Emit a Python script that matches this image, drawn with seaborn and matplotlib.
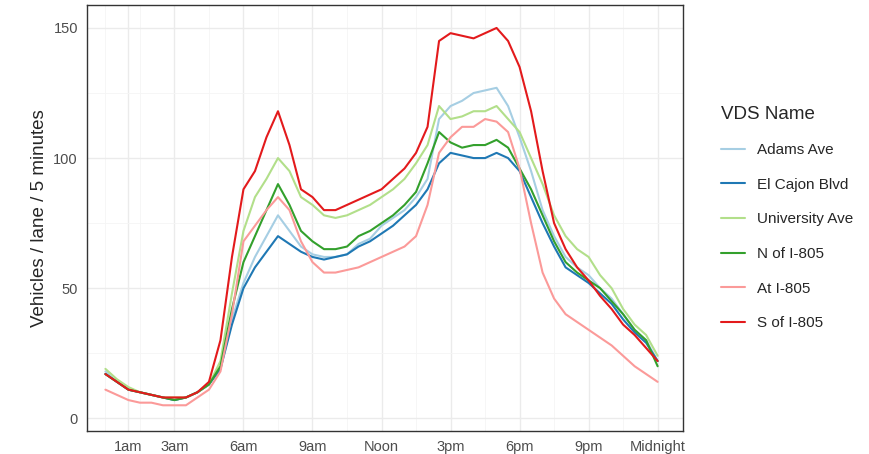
import matplotlib.pyplot as plt
import numpy as np
import pandas as pd
import seaborn as sns

sns.set_theme(style="whitegrid")
plt.rcParams["font.family"] = ["Liberation Sans", "DejaVu Sans"]

hours = [i / 2 for i in range(49)]
adams = [18, 14, 11, 10, 9, 8, 7, 8, 10, 13, 19, 38, 52, 62, 70, 78, 72, 66, 63, 62, 62, 63, 67, 69, 74,
         77, 80, 85, 92, 115, 120, 122, 125, 126, 127, 120, 108, 95, 80, 70, 62, 58, 55, 50, 46, 40, 34, 30, 22]
el_cajon = [17, 14, 11, 10, 9, 8, 7, 8, 10, 13, 19, 36, 50, 58, 64, 70, 67, 64, 62, 61, 62, 63, 66, 68, 71,
            74, 78, 82, 88, 98, 102, 101, 100, 100, 102, 100, 95, 85, 75, 66, 58, 55, 52, 48, 44, 38, 33, 29, 22]
university = [19, 15, 12, 10, 9, 8, 8, 8, 10, 13, 22, 48, 72, 85, 92, 100, 95, 85, 82, 78, 77, 78, 80, 82, 85,
              88, 92, 98, 105, 120, 115, 116, 118, 118, 120, 115, 110, 100, 90, 78, 70, 65, 62, 55, 50, 42, 36, 32, 24]
n_805 = [17, 14, 11, 10, 9, 8, 7, 8, 10, 13, 20, 42, 60, 70, 80, 90, 82, 72, 68, 65, 65, 66, 70, 72, 75,
         78, 82, 87, 98, 110, 106, 104, 105, 105, 107, 104, 96, 88, 78, 68, 60, 56, 53, 50, 45, 40, 34, 30, 20]
at_805 = [11, 9, 7, 6, 6, 5, 5, 5, 8, 11, 18, 40, 68, 74, 80, 85, 80, 68, 60, 56, 56, 57, 58, 60, 62,
          64, 66, 70, 82, 102, 108, 112, 112, 115, 114, 110, 96, 75, 56, 46, 40, 37, 34, 31, 28, 24, 20, 17, 14]
s_805 = [17, 14, 11, 10, 9, 8, 8, 8, 10, 14, 30, 62, 88, 95, 108, 118, 105, 88, 85, 80, 80, 82, 84, 86, 88,
         92, 96, 102, 112, 145, 148, 147, 146, 148, 150, 145, 135, 118, 95, 75, 65, 58, 53, 47, 42, 36, 32, 27, 22]

names = ["Adams Ave", "El Cajon Blvd", "University Ave", "N of I-805", "At I-805", "S of I-805"]
series = [adams, el_cajon, university, n_805, at_805, s_805]
colors = ["#A6CEE3", "#1F78B4", "#B2DF8A", "#33A02C", "#FB9A99", "#E31A1C"]

df = pd.concat([pd.DataFrame({"hour": hours, "value": v, "VDS Name": n}) for n, v in zip(names, series)])

fig, ax = plt.subplots(figsize=(8.7, 4.54), dpi=100)
sns.lineplot(data=df, x="hour", y="value", hue="VDS Name", hue_order=names,
             palette=colors, linewidth=1.5, ax=ax)

ax.set_xlim(-0.8, 25.1)
ax.set_ylim(-5, 159)
ax.set_xticks([1, 3, 6, 9, 12, 15, 18, 21, 24])
ax.set_xticklabels(["1am", "3am", "6am", "9am", "Noon", "3pm", "6pm", "9pm", "Midnight"])
ax.set_xticks([0, 1.5, 4.5, 7.5, 10.5, 13.5, 16.5, 19.5, 22.5], minor=True)
ax.set_yticks([0, 50, 100, 150])
ax.set_yticks([25, 75, 125], minor=True)
ax.grid(True, which="major", color="#EBEBEB", linewidth=1)
ax.grid(True, which="minor", color="#F5F5F5", linewidth=0.6)
ax.tick_params(axis="both", which="major", length=3, color="#333333", labelsize=10.5, labelcolor="#4D4D4D")
ax.tick_params(axis="both", which="minor", length=0)
for s in ax.spines.values():
    s.set_color("#333333")
    s.set_linewidth(1)
ax.set_xlabel("")
ax.set_ylabel("Vehicles / lane / 5 minutes", fontsize=13.5)

leg = ax.legend(title="VDS Name", loc="center left", bbox_to_anchor=(1.04, 0.5), frameon=False,
                fontsize=11, title_fontsize=13.5, handlelength=1.6, labelspacing=1.35)
leg._legend_box.align = "left"

fig.subplots_adjust(left=0.1, right=0.785, top=0.99, bottom=0.05)
plt.savefig("out.png", dpi=100)
